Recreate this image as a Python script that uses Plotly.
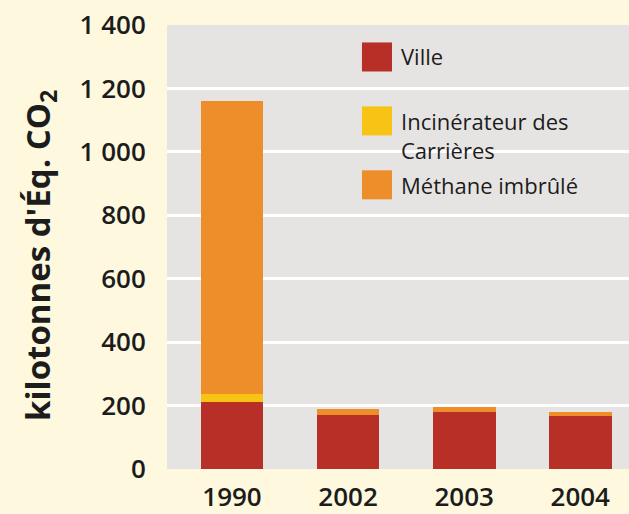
import plotly.graph_objects as go

years = ["1990", "2002", "2003", "2004"]
ville = [210, 171, 181, 168]
incinerateur = [25, 0, 0, 0]
methane = [924, 19, 16, 13]

series_names = ["Ville", "Incinérateur des<br>Carrières", "Méthane imbrûlé"]
series_colors = ["#b72f26", "#f7c416", "#ee8e2a"]

tick_vals = [0, 200, 400, 600, 800, 1000, 1200, 1400]

PAPER_BG = "#fdf8de"
PLOT_BG = "#e6e4e3"
FONT = "Open Sans, Noto Sans, sans-serif"
INK = "#1c1c1c"

fig = go.Figure()
for name, vals, col in zip(series_names, [ville, incinerateur, methane], series_colors):
    fig.add_trace(
        go.Bar(
            x=years,
            y=vals,
            name=name,
            marker={"color": col, "line": {"width": 0}},
            width=0.54,
            showlegend=False,
        )
    )

# hand-made legend so the swatches can be as big as in the original
swatch_y = [0.928, 0.784, 0.640]
text_y = [0.93, 0.751, 0.640]
for sy, ty, name, col in zip(swatch_y, text_y, series_names, series_colors):
    fig.add_shape(
        type="rect",
        xref="paper",
        yref="paper",
        x0=0.422,
        x1=0.487,
        y0=sy - 0.0327,
        y1=sy + 0.0327,
        fillcolor=col,
        line={"width": 0},
    )
    fig.add_annotation(
        text=name,
        xref="paper",
        yref="paper",
        x=0.502,
        y=ty,
        xanchor="left",
        yanchor="middle",
        align="left",
        showarrow=False,
        font={"size": 22, "color": INK, "family": FONT, "weight": 500},
    )

# axis title placed by hand
fig.add_annotation(
    text="<b>kilotonnes d'Éq. CO<sub>2</sub></b>",
    xref="paper",
    yref="paper",
    x=-0.275,
    y=0.482,
    xanchor="center",
    yanchor="middle",
    textangle=-90,
    showarrow=False,
    font={"size": 33, "color": INK, "family": FONT},
)

fig.update_layout(
    barmode="stack",
    width=629,
    height=514,
    paper_bgcolor=PAPER_BG,
    plot_bgcolor=PLOT_BG,
    separators=", ",
    margin={"l": 167, "r": 0, "t": 25, "b": 45},
    font={"family": FONT, "color": INK},
    xaxis={
        "range": [-0.56, 3.42],
        "showgrid": False,
        "automargin": False,
        "ticks": "outside",
        "ticklen": 5,
        "tickcolor": PAPER_BG,
        "tickfont": {"size": 26, "weight": 600},
    },
    yaxis={
        "range": [0, 1400],
        "tickvals": tick_vals,
        "tickformat": ",d",
        "gridcolor": "white",
        "gridwidth": 3,
        "zeroline": False,
        "automargin": False,
        "ticks": "outside",
        "ticklen": 15,
        "tickcolor": PAPER_BG,
        "tickfont": {"size": 26, "weight": 600},
    },
)

fig.write_html(
    "out.html",
    config={"displayModeBar": False},
    post_script="document.body.style.margin = '0';",
)
